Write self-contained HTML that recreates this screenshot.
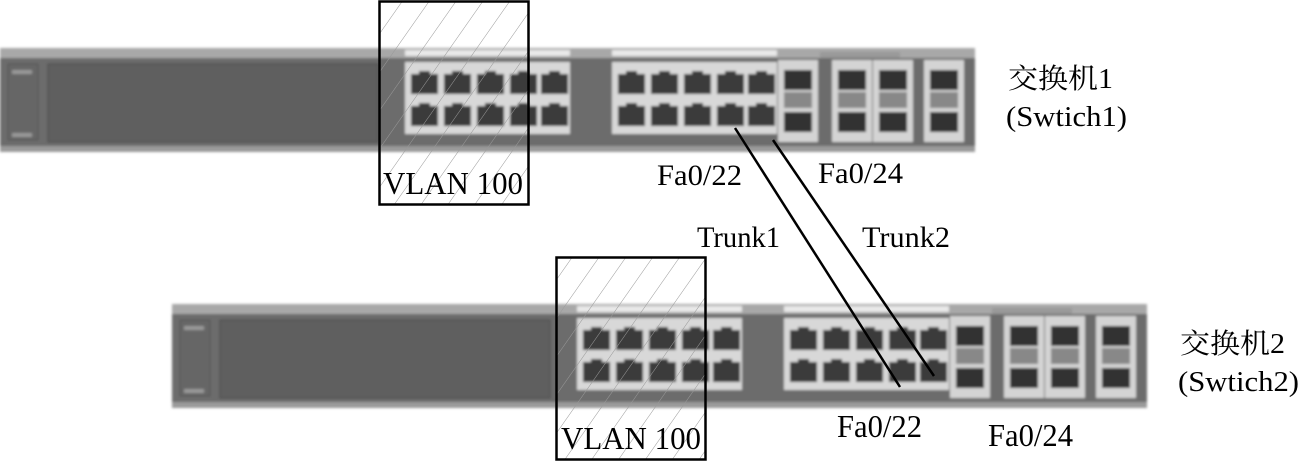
<!DOCTYPE html>
<html><head><meta charset="utf-8"><style>
html,body{margin:0;padding:0;background:#fff;}
svg{display:block;}
text{font-family:"Liberation Serif","Noto Serif CJK SC",serif;fill:#000;}
</style></head><body>
<svg width="1301" height="461" viewBox="0 0 1301 461" xmlns="http://www.w3.org/2000/svg">
<defs>
<filter id="bl"><feGaussianBlur stdDeviation="1.2"/></filter>
<pattern id="hatch" width="22" height="22" patternUnits="userSpaceOnUse" patternTransform="rotate(35)">
<line x1="0" y1="0" x2="0" y2="22" stroke="#999" stroke-width="1"/>
</pattern>
<g id="port">
<rect x="0" y="0" width="27" height="20" fill="#3a3a3a"/>
<rect x="8" y="-3" width="11" height="4" fill="#3a3a3a"/>
</g>
<g id="blk">
<rect x="0" y="-12" width="165" height="6" fill="#e8e8e8"/>
<rect x="0" y="0" width="165" height="72" fill="#d8d8d8"/>
<use href="#port" x="6" y="12"/><use href="#port" x="39" y="12"/><use href="#port" x="72" y="12"/><use href="#port" x="105" y="12"/><use href="#port" x="136" y="12"/>
<use href="#port" x="6" y="44"/><use href="#port" x="39" y="44"/><use href="#port" x="72" y="44"/><use href="#port" x="105" y="44"/><use href="#port" x="136" y="44"/>
</g>
<g id="up">
<rect x="0" y="0" width="40" height="82" fill="#d4d4d4"/>
<rect x="6" y="10" width="28" height="20" fill="#333"/>
<rect x="6" y="32" width="28" height="16" fill="#888"/>
<rect x="6" y="52" width="28" height="20" fill="#333"/>
</g>
<g id="sw">
<g filter="url(#bl)">
<rect x="0" y="48" width="975" height="104" fill="#6c6c6c" rx="3"/>
<rect x="0" y="48" width="975" height="10" fill="#a8a8a8"/>
<rect x="0" y="146" width="975" height="6" fill="#9a9a9a"/>
<rect x="48" y="64" width="330" height="78" fill="#5e5e5e" stroke="#4c4c4c"/>
<rect x="8" y="64" width="30" height="76" fill="#666" stroke="#555"/>
<rect x="12" y="70" width="20" height="4" fill="#999"/>
<rect x="12" y="133" width="20" height="4" fill="#999"/>
<use href="#blk" x="405" y="62"/>
<use href="#blk" x="612" y="62"/>
<use href="#up" x="778" y="60"/>
<use href="#up" x="832" y="60"/>
<use href="#up" x="873" y="60"/>
<use href="#up" x="924" y="60"/>
<rect x="820" y="52" width="80" height="6" fill="#999"/>
</g>
</g>
</defs>

<use href="#sw" x="0" y="0"/>
<use href="#sw" x="172" y="256"/>

<rect x="379.5" y="1.5" width="149" height="203" fill="url(#hatch)" stroke="#000" stroke-width="2.5"/>
<rect x="556.5" y="257.5" width="149" height="202" fill="url(#hatch)" stroke="#000" stroke-width="2.5"/>

<line x1="735" y1="128" x2="900" y2="387" stroke="#000" stroke-width="2.5"/>
<line x1="773" y1="140" x2="934" y2="376" stroke="#000" stroke-width="2.5"/>

<text x="383" y="194" font-size="32" textLength="140" lengthAdjust="spacingAndGlyphs">VLAN 100</text>
<text x="561" y="449" font-size="32" textLength="140" lengthAdjust="spacingAndGlyphs">VLAN 100</text>
<text x="657" y="185" font-size="30" textLength="85" lengthAdjust="spacingAndGlyphs">Fa0/22</text>
<text x="818" y="183" font-size="30" textLength="85" lengthAdjust="spacingAndGlyphs">Fa0/24</text>
<text x="697" y="247" font-size="30" textLength="83" lengthAdjust="spacingAndGlyphs">Trunk1</text>
<text x="862" y="247" font-size="30" textLength="88" lengthAdjust="spacingAndGlyphs">Trunk2</text>
<text x="1008" y="88" font-size="28" textLength="105" lengthAdjust="spacingAndGlyphs">交换机1</text>
<text x="1006" y="126" font-size="29" textLength="121" lengthAdjust="spacingAndGlyphs">(Swtich1)</text>
<text x="1180" y="353" font-size="28" textLength="105" lengthAdjust="spacingAndGlyphs">交换机2</text>
<text x="1178" y="391" font-size="29" textLength="121" lengthAdjust="spacingAndGlyphs">(Swtich2)</text>
<text x="837" y="437" font-size="32" textLength="85" lengthAdjust="spacingAndGlyphs">Fa0/22</text>
<text x="988" y="446" font-size="32" textLength="85" lengthAdjust="spacingAndGlyphs">Fa0/24</text>
</svg>
</body></html>
